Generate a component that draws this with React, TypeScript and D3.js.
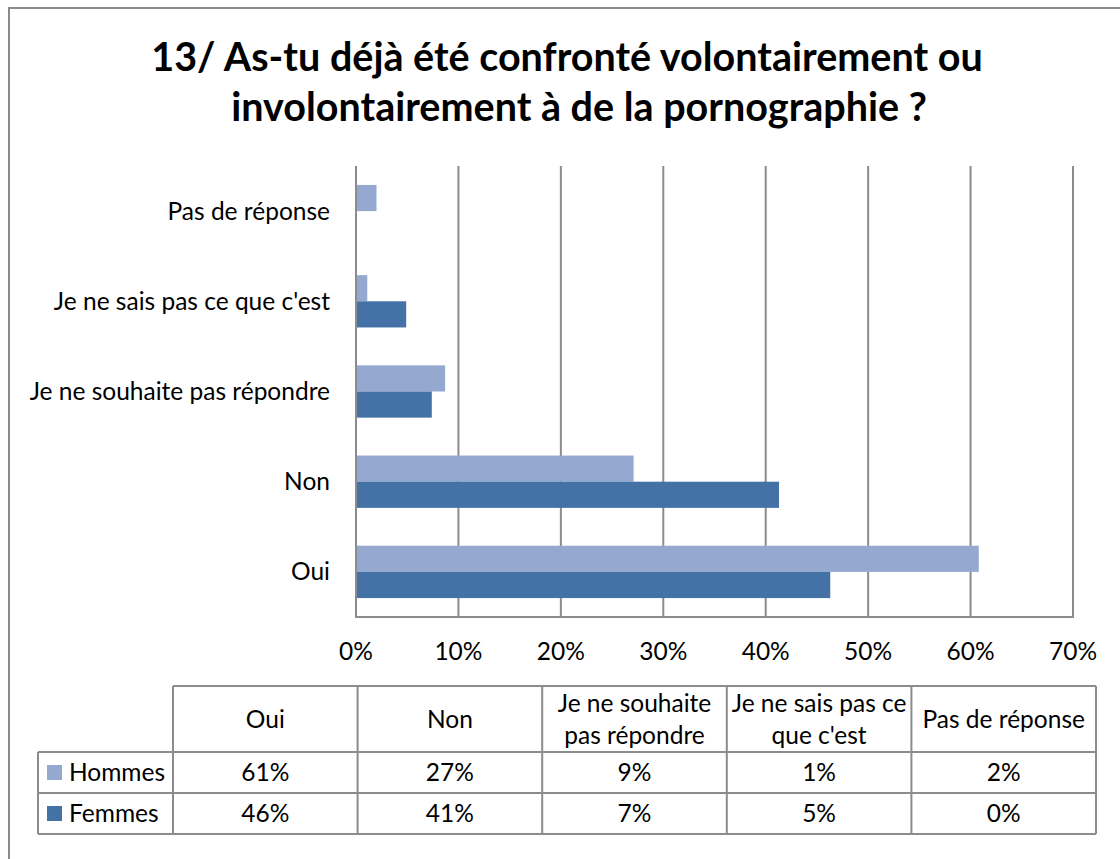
import React from "react";
import * as d3 from "d3";

const categories = ["Oui", "Non", "Je ne souhaite pas répondre", "Je ne sais pas ce que c'est", "Pas de réponse"];
const tableHeaders = [["Oui"], ["Non"], ["Je ne souhaite", "pas répondre"], ["Je ne sais pas ce", "que c'est"], ["Pas de réponse"]];
const seriesNames = ["Hommes", "Femmes"];
const hommes = [60.8, 27.1, 8.7, 1.1, 2.0];
const femmes = [46.3, 41.3, 7.4, 4.9, 0];
const xTicks = [0, 10, 20, 30, 40, 50, 60, 70];
const colors = ["#95a9d0", "#4472a6"];

const W = 1120;
const H = 859;
const FONT = "Lato, 'Open Sans', sans-serif";
const GRID = "#8c8c8c";
const FS = 24.5;

export default function App() {
  const seriesValues = [hommes, femmes];
  const x = d3.scaleLinear().domain([0, 70]).range([356, 1073]);
  const yOrder = [...categories].reverse();
  const y = d3.scaleBand<string>().domain(yOrder).range([166, 617]).paddingInner(0.42).paddingOuter(0.21);
  const ySub = d3.scaleBand<string>().domain(seriesNames).range([0, y.bandwidth()]);
  const yCat = d3.scaleBand<string>().domain(yOrder).range([166, 617]);

  const tableX = d3.scaleBand<string>().domain(categories).range([173, 1096]);
  const rowTops = [686, 752, 793, 834];
  const fmt = (v: number) => `${Math.round(v)}%`;

  return (
    <svg width={W} height={H} style={{ position: "absolute", left: 0, top: 0, background: "#fff" }} fontFamily={FONT}>
      <rect x={9} y={8} width={W + 20} height={H + 20} fill="#fff" stroke="#8a8a8a" strokeWidth={2} />
      <text x={567} y={71} textAnchor="middle" fontSize={39.5} fontWeight={700} fill="#000">
        13/ As-tu déjà été confronté volontairement ou
      </text>
      <text x={579} y={121} textAnchor="middle" fontSize={39.5} fontWeight={700} fill="#000">
        involontairement à de la pornographie ?
      </text>

      {/* gridlines */}
      {xTicks.map((t) => (
        <line key={t} x1={x(t)} x2={x(t)} y1={166} y2={617} stroke={GRID} strokeWidth={2} />
      ))}
      <line x1={x(0) - 1} x2={x(70) + 1} y1={617} y2={617} stroke={GRID} strokeWidth={2} />

      {/* bars */}
      {seriesNames.map((s, si) =>
        categories.map((c, ci) => (
          <rect
            key={s + c}
            x={x(0)}
            y={(y(c) as number) + (ySub(s) as number)}
            width={x(seriesValues[si][ci]) - x(0)}
            height={ySub.bandwidth()}
            fill={colors[si]}
          />
        ))
      )}
      <line x1={x(0)} x2={x(0)} y1={166} y2={617} stroke={GRID} strokeWidth={2} />

      {/* category labels */}
      {categories.map((c) => (
        <text key={c} x={330} y={(yCat(c) as number) + yCat.bandwidth() / 2 + 8.5} textAnchor="end" fontSize={FS} fill="#000">
          {c}
        </text>
      ))}

      {/* x tick labels */}
      {xTicks.map((t) => (
        <text key={t} x={x(t)} y={660} textAnchor="middle" fontSize={FS} fill="#000">
          {t}%
        </text>
      ))}

      {/* data table */}
      <g stroke={GRID} strokeWidth={2} fill="none">
        <line x1={173} x2={1096} y1={rowTops[0]} y2={rowTops[0]} />
        <line x1={38} x2={1096} y1={rowTops[1]} y2={rowTops[1]} />
        <line x1={38} x2={1096} y1={rowTops[2]} y2={rowTops[2]} />
        <line x1={38} x2={1096} y1={rowTops[3]} y2={rowTops[3]} />
        <line x1={38} x2={38} y1={rowTops[1]} y2={rowTops[3]} />
        {categories.map((c) => (
          <line key={c} x1={tableX(c)} x2={tableX(c)} y1={rowTops[0]} y2={rowTops[3]} />
        ))}
        <line x1={1096} x2={1096} y1={rowTops[0]} y2={rowTops[3]} />
      </g>
      {categories.map((c, ci) => {
        const cx = (tableX(c) as number) + tableX.bandwidth() / 2;
        const lines = tableHeaders[ci];
        const mid = (rowTops[0] + rowTops[1]) / 2;
        return (
          <g key={c}>
            {lines.map((l, li) => (
              <text key={li} x={cx} y={mid + 8.5 + (li - (lines.length - 1) / 2) * 32} textAnchor="middle" fontSize={FS} fill="#000">
                {l}
              </text>
            ))}
            {seriesNames.map((s, si) => (
              <text key={s} x={cx} y={(rowTops[si + 1] + rowTops[si + 2]) / 2 + 8.5} textAnchor="middle" fontSize={FS} fill="#000">
                {fmt(seriesValues[si][ci])}
              </text>
            ))}
          </g>
        );
      })}
      {seriesNames.map((s, si) => {
        const mid = (rowTops[si + 1] + rowTops[si + 2]) / 2;
        return (
          <g key={s}>
            <rect x={47} y={mid - 7.5} width={15} height={15} fill={colors[si]} />
            <text x={69} y={mid + 8.5} fontSize={FS} fill="#000">
              {s}
            </text>
          </g>
        );
      })}
    </svg>
  );
}
